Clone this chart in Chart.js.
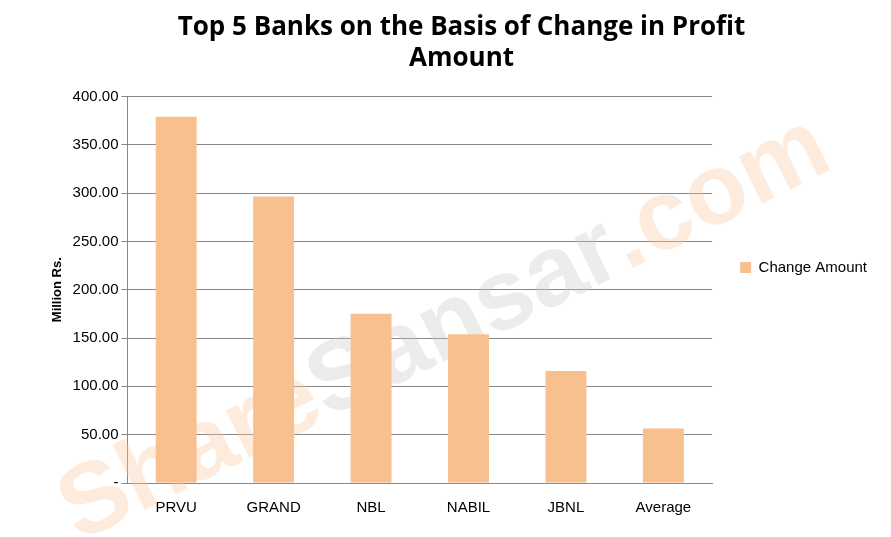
<!DOCTYPE html>
<html>
<head>
<meta charset="utf-8">
<script src="https://cdn.jsdelivr.net/npm/chart.js@4"></script>
<style>
  body { margin: 0; background: #fff; }
  #wrap { width: 891px; height: 537px; }
</style>
</head>
<body>
<div id="wrap"><canvas id="chart"></canvas></div>
<script>
const banks = ["PRVU", "GRAND", "NBL", "NABIL", "JBNL", "Average"];
const changeAmount = [379, 296.5, 175, 154, 116, 56.5];
const yTicks = [0, 50, 100, 150, 200, 250, 300, 350, 400];

// watermark behind the bars
const watermark = {
    id: 'watermark',
    beforeDatasetsDraw(chart) {
        const ctx = chart.ctx;
        ctx.save();
        ctx.translate(445, 330);
        ctx.rotate(-0.46);
        ctx.font = "bold 100px 'Liberation Sans', sans-serif";
        ctx.textBaseline = 'middle';
        const parts = [["Share", "rgba(250,200,160,0.35)"], ["Sansar", "rgba(200,200,200,0.35)"], [".com", "rgba(250,200,160,0.35)"]];
        let total = parts.reduce((s, p) => s + ctx.measureText(p[0]).width, 0);
        let x = -total / 2;
        parts.forEach(p => {
            ctx.fillStyle = p[1];
            ctx.fillText(p[0], x, 0);
            x += ctx.measureText(p[0]).width;
        });
        ctx.restore();
    }
};

new Chart(document.getElementById('chart'), {
    type: 'bar',
    data: {
        labels: banks,
        datasets: [{
            label: 'Change Amount',
            data: changeAmount,
            backgroundColor: '#f9c08f',
            barPercentage: 0.42,
            categoryPercentage: 1
        }]
    },
    options: {
        responsive: true,
        maintainAspectRatio: false,
        animation: false,
        layout: { padding: { left: 46, right: 14, bottom: 12, top: 10 } },
        plugins: {
            title: {
                display: true,
                text: ['Top 5 Banks on the Basis of Change in Profit', 'Amount'],
                color: '#000',
                font: { family: "'Open Sans', sans-serif", size: 26, weight: 'bold' },
                lineHeight: 1.5,
                padding: { top: 2, bottom: 22 }
            },
            legend: {
                position: 'right',
                labels: {
                    color: '#000',
                    boxWidth: 11, boxHeight: 11,
                    padding: 28,
                    font: { family: "'Liberation Sans', sans-serif", size: 15 }
                }
            },
            tooltip: { enabled: false }
        },
        scales: {
            x: {
                grid: { display: false },
                border: { color: '#888' },
                ticks: { color: '#000', font: { family: "'Liberation Sans', sans-serif", size: 15 }, padding: 8 }
            },
            y: {
                min: 0, max: 400,
                afterBuildTicks: axis => { axis.ticks = yTicks.map(v => ({ value: v })); },
                grid: { color: '#888', drawTicks: true, tickLength: 6 },
                border: { color: '#888' },
                ticks: {
                    color: '#000',
                    font: { family: "'Liberation Sans', sans-serif", size: 15 },
                    callback: v => v === 0 ? '-' : v.toFixed(2)
                },
                title: {
                    display: true, text: 'Million Rs.', color: '#000',
                    font: { family: "'Liberation Sans', sans-serif", size: 13, weight: 'bold' }
                }
            }
        }
    },
    plugins: [watermark]
});
</script>
</body>
</html>
